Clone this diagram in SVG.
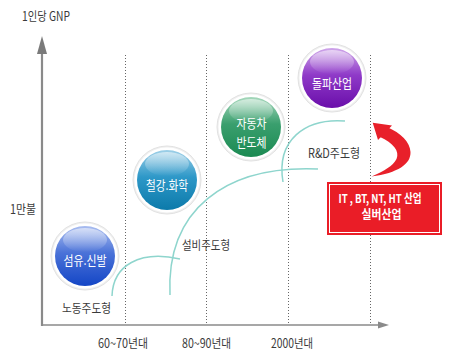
<svg xmlns="http://www.w3.org/2000/svg" width="450" height="360" viewBox="0 0 450 360">
<defs>
<style>
.lbl{font-family:"Noto Sans CJK KR","Noto Sans",sans-serif;font-size:12.5px;fill:#3a3a3a}
.ctx{font-family:"Noto Sans CJK KR","Noto Sans",sans-serif;font-size:13px;fill:#fff;text-anchor:middle}
.btx{font-family:"Noto Sans CJK KR","Noto Sans",sans-serif;font-size:12px;fill:#fff;text-anchor:middle;font-weight:bold}
.dot{stroke:#666;stroke-width:1;stroke-dasharray:1 2;fill:none}
.curve{stroke:#8ed5cd;stroke-width:1.5;fill:none}
.ring1{fill:#f0f0f0;stroke:#e2e2e2;stroke-width:1}
.ring2{fill:#fff}
.gloss{fill:url(#gloss)}
</style>
<linearGradient id="gBlue" x1="0" y1="0" x2="0" y2="1">
<stop offset="0" stop-color="#a9bdf0"/><stop offset="0.45" stop-color="#4a72d8"/><stop offset="1" stop-color="#1446c6"/>
</linearGradient>
<linearGradient id="gTeal" x1="0" y1="0" x2="0" y2="1">
<stop offset="0" stop-color="#9ed0e8"/><stop offset="0.45" stop-color="#2e98c8"/><stop offset="1" stop-color="#0c7aaa"/>
</linearGradient>
<linearGradient id="gGreen" x1="0" y1="0" x2="0" y2="1">
<stop offset="0" stop-color="#a6d8bc"/><stop offset="0.45" stop-color="#3a9f6e"/><stop offset="1" stop-color="#1b8a52"/>
</linearGradient>
<linearGradient id="gPurple" x1="0" y1="0" x2="0" y2="1">
<stop offset="0" stop-color="#cfa6ea"/><stop offset="0.45" stop-color="#8f3ac8"/><stop offset="1" stop-color="#6a0eaa"/>
</linearGradient>
<linearGradient id="gloss" x1="0" y1="0" x2="0" y2="1">
<stop offset="0" stop-color="#fff" stop-opacity="0.55"/><stop offset="1" stop-color="#fff" stop-opacity="0"/>
</linearGradient>
</defs>
<rect width="450" height="360" fill="#fff"/>

<g id="grid">
<line class="dot" x1="125.5" y1="55" x2="125.5" y2="323"/>
<line class="dot" x1="206.5" y1="55" x2="206.5" y2="323"/>
<line class="dot" x1="288.5" y1="55" x2="288.5" y2="323"/>
<line class="dot" x1="370.5" y1="55" x2="370.5" y2="323"/>
</g>

<g id="axes">
<line x1="42" y1="50" x2="42" y2="326" stroke="#8a8a8a" stroke-width="2.2"/>
<polygon points="42,36 37,54 47,54" fill="#7a7a7a"/>
<line x1="41" y1="325" x2="380" y2="325" stroke="#8a8a8a" stroke-width="1.6"/>
<polygon points="389,325 378,321.5 378,328.5" fill="#8a8a8a"/>
<text class="lbl" x="22" y="21" textLength="48" lengthAdjust="spacingAndGlyphs">1인당 GNP</text>
<text class="lbl" x="10" y="214" textLength="26" lengthAdjust="spacingAndGlyphs">1만불</text>
<text class="lbl" x="98" y="348" textLength="50" lengthAdjust="spacingAndGlyphs">60~70년대</text>
<text class="lbl" x="182" y="348" textLength="49" lengthAdjust="spacingAndGlyphs">80~90년대</text>
<text class="lbl" x="271" y="348" textLength="42" lengthAdjust="spacingAndGlyphs">2000년대</text>
</g>

<g id="connectors">
<path class="curve" d="M112,296 C113,265 140,250 180,259"/>
<path class="curve" d="M170,295 C166,210 225,165 318,169"/>
<path class="curve" d="M283,182 C276,140 305,118 345,121"/>
</g>

<g id="labels">
<text class="lbl" x="62" y="313" textLength="49" lengthAdjust="spacingAndGlyphs">노동주도형</text>
<text class="lbl" x="182" y="250" textLength="48" lengthAdjust="spacingAndGlyphs">설비주도형</text>
<text class="lbl" x="308" y="158" textLength="52" lengthAdjust="spacingAndGlyphs">R&amp;D주도형</text>
</g>

<g id="n1">
<circle class="ring1" cx="85" cy="256" r="34"/>
<circle class="ring2" cx="85" cy="256" r="32.5"/>
<circle cx="85" cy="256" r="30" fill="url(#gBlue)"/>
<ellipse class="gloss" cx="85" cy="240" rx="22" ry="12"/>
<text class="ctx" x="85" y="265" textLength="43" lengthAdjust="spacingAndGlyphs">섬유.신발</text>
</g>

<g id="n2">
<circle class="ring1" cx="167" cy="180" r="34"/>
<circle class="ring2" cx="167" cy="180" r="32.5"/>
<circle cx="167" cy="180" r="30" fill="url(#gTeal)"/>
<ellipse class="gloss" cx="167" cy="164" rx="22" ry="12"/>
<text class="ctx" x="167" y="190" textLength="42" lengthAdjust="spacingAndGlyphs">철강.화학</text>
</g>

<g id="n3">
<circle class="ring1" cx="251" cy="127" r="34"/>
<circle class="ring2" cx="251" cy="127" r="32.5"/>
<circle cx="251" cy="127" r="30" fill="url(#gGreen)"/>
<ellipse class="gloss" cx="251" cy="111" rx="22" ry="12"/>
<text class="ctx" x="251.5" y="128" textLength="30" lengthAdjust="spacingAndGlyphs">자동차</text>
<text class="ctx" x="251.5" y="147" textLength="30" lengthAdjust="spacingAndGlyphs">반도체</text>
</g>

<g id="n4">
<circle class="ring1" cx="332" cy="78" r="34"/>
<circle class="ring2" cx="332" cy="78" r="32.5"/>
<circle cx="332" cy="78" r="30" fill="url(#gPurple)"/>
<ellipse class="gloss" cx="332" cy="62" rx="22" ry="12"/>
<text class="ctx" x="332" y="88" textLength="40" lengthAdjust="spacingAndGlyphs">돌파산업</text>
</g>

<g id="arrow">
<path fill="#e8202a" d="M372.7,122.7 L392,125.5 L378,140 Z M387,127 C401,133 410,142 410.5,152 C411,164 398,173 371.5,176.5 C384,171 393,166 396.5,159 C400,151 393,143 380,137 Z"/>
</g>

<g id="box">
<rect x="327" y="182" width="115" height="53" fill="#ea1d27"/>
<rect x="329.5" y="184.5" width="110" height="48" fill="none" stroke="#fff" stroke-width="1"/>
<text class="btx" x="380" y="203" textLength="83" lengthAdjust="spacingAndGlyphs">IT , BT, NT, HT 산업</text>
<text class="btx" x="381.5" y="218.5" textLength="40" lengthAdjust="spacingAndGlyphs">실버산업</text>
</g>
</svg>
